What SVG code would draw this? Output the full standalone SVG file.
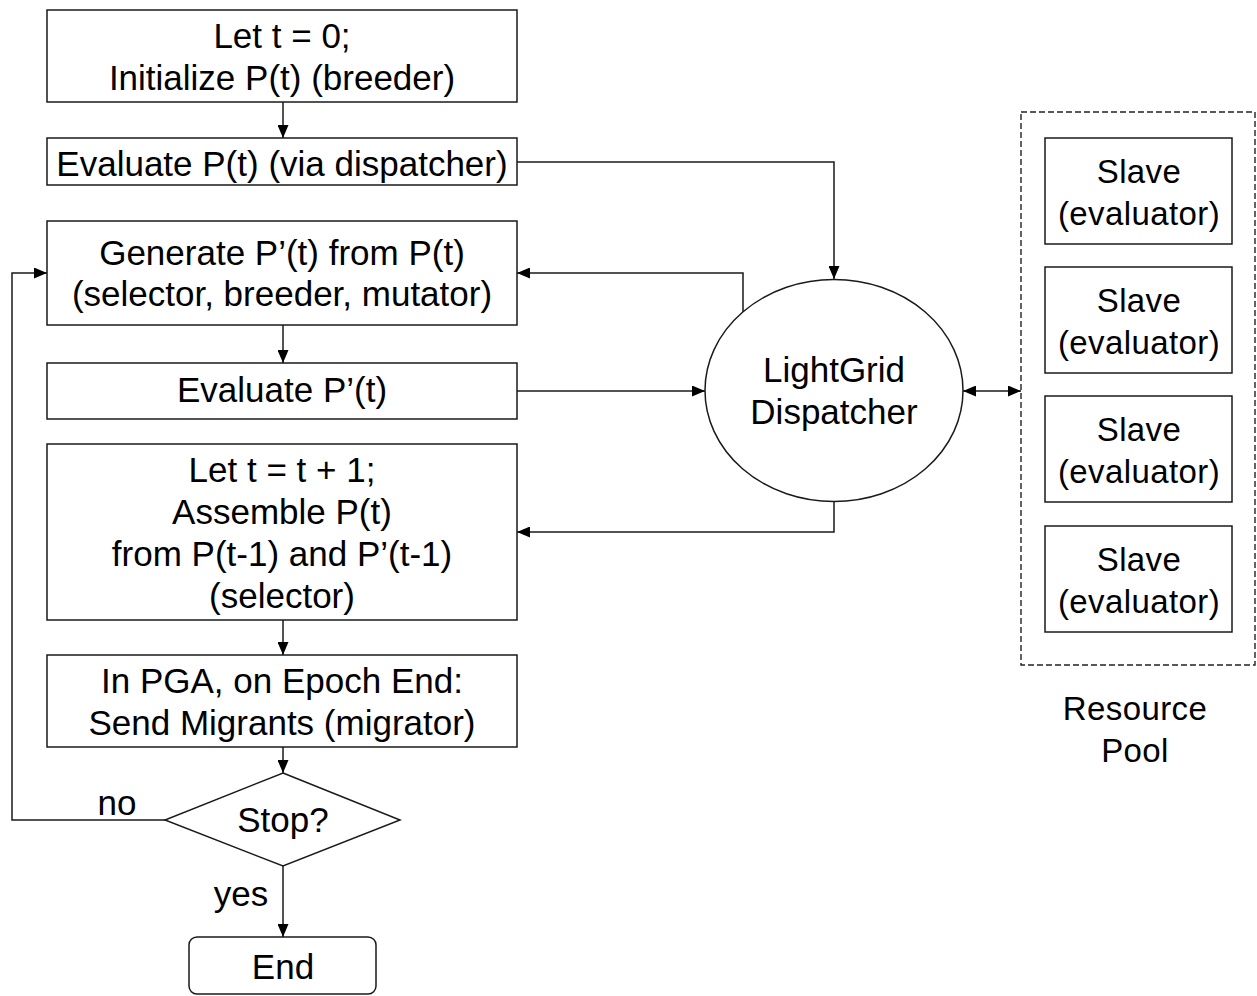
<svg xmlns="http://www.w3.org/2000/svg" width="1257" height="996" viewBox="0 0 1257 996">
  <style>
    .box { fill: #ffffff; stroke: #1a1a1a; stroke-width: 1.5; }
    .lbl { font-family: "Liberation Sans", Arial, sans-serif; font-size: 35px; fill: #000; text-anchor: middle; }
    .slv { font-family: "Liberation Sans", Arial, sans-serif; font-size: 33px; fill: #000; text-anchor: middle; letter-spacing: 0.4px; }
    .edge { fill: none; stroke: #1a1a1a; stroke-width: 1.5; }
    .pool { fill: none; stroke: #222; stroke-width: 1.4; stroke-dasharray: 6 3; }
  </style>
  <defs>
    <marker id="arrow" viewBox="0 0 13 11" refX="13" refY="5.5" markerWidth="13" markerHeight="11" markerUnits="userSpaceOnUse" orient="auto-start-reverse">
      <path d="M0,0 L13,5.5 L0,11 Z" fill="#000"/>
    </marker>
  </defs>

  <rect width="1257" height="996" fill="#ffffff"/>

  <!-- flowchart steps -->
  <g id="init">
    <rect class="box" x="47" y="10" width="470" height="92"/>
    <text class="lbl" x="282" y="48">Let t = 0;</text>
    <text class="lbl" x="282" y="90">Initialize P(t) (breeder)</text>
  </g>
  <g id="evaluate-initial">
    <rect class="box" x="47" y="138" width="470" height="47"/>
    <text class="lbl" x="282" y="176">Evaluate P(t) (via dispatcher)</text>
  </g>
  <g id="generate">
    <rect class="box" x="47" y="221" width="470" height="104"/>
    <text class="lbl" x="282" y="265">Generate P’(t) from P(t)</text>
    <text class="lbl" x="282" y="306">(selector, breeder, mutator)</text>
  </g>
  <g id="evaluate-offspring">
    <rect class="box" x="47" y="363" width="470" height="56"/>
    <text class="lbl" x="282" y="402">Evaluate P’(t)</text>
  </g>
  <g id="assemble">
    <rect class="box" x="47" y="444" width="470" height="176"/>
    <text class="lbl" x="282" y="482">Let t = t + 1;</text>
    <text class="lbl" x="282" y="524">Assemble P(t)</text>
    <text class="lbl" x="282" y="566">from P(t-1) and P’(t-1)</text>
    <text class="lbl" x="282" y="608">(selector)</text>
  </g>
  <g id="migrate">
    <rect class="box" x="47" y="655" width="470" height="92"/>
    <text class="lbl" x="282" y="693">In PGA, on Epoch End:</text>
    <text class="lbl" x="282" y="735">Send Migrants (migrator)</text>
  </g>
  <g id="stop">
    <polygon class="box" points="283,773 400,820 283,866 165,820"/>
    <text class="lbl" x="283" y="832">Stop?</text>
  </g>
  <g id="end">
    <rect class="box" x="189" y="937" width="187" height="57" rx="8"/>
    <text class="lbl" x="283" y="979">End</text>
  </g>

  <!-- dispatcher -->
  <g id="dispatcher">
    <ellipse class="box" cx="834" cy="390.5" rx="129" ry="111"/>
    <text class="lbl" x="834" y="382">LightGrid</text>
    <text class="lbl" x="834" y="424">Dispatcher</text>
  </g>

  <!-- resource pool -->
  <g id="resource-pool">
    <rect class="pool" x="1021" y="112" width="234" height="553"/>
    <text class="slv" x="1135" y="720">Resource</text>
    <text class="slv" x="1135" y="762">Pool</text>
  </g>
  <g id="slave-1">
    <rect class="box" x="1045" y="138" width="187" height="106"/>
    <text class="slv" x="1139" y="183">Slave</text>
    <text class="slv" x="1139" y="225">(evaluator)</text>
  </g>
  <g id="slave-2">
    <rect class="box" x="1045" y="267" width="187" height="106"/>
    <text class="slv" x="1139" y="312">Slave</text>
    <text class="slv" x="1139" y="354">(evaluator)</text>
  </g>
  <g id="slave-3">
    <rect class="box" x="1045" y="396" width="187" height="106"/>
    <text class="slv" x="1139" y="441">Slave</text>
    <text class="slv" x="1139" y="483">(evaluator)</text>
  </g>
  <g id="slave-4">
    <rect class="box" x="1045" y="526" width="187" height="106"/>
    <text class="slv" x="1139" y="571">Slave</text>
    <text class="slv" x="1139" y="613">(evaluator)</text>
  </g>

  <!-- connectors -->
  <g id="connectors">
    <path class="edge" d="M283,102 V138" marker-end="url(#arrow)"/>
    <path class="edge" d="M517,162 H834 V279" marker-end="url(#arrow)"/>
    <path class="edge" d="M743,312 V273 H517" marker-end="url(#arrow)"/>
    <path class="edge" d="M283,325 V363" marker-end="url(#arrow)"/>
    <path class="edge" d="M517,391 H705" marker-end="url(#arrow)"/>
    <path class="edge" d="M834,502 V532 H517" marker-end="url(#arrow)"/>
    <path class="edge" d="M283,620 V655" marker-end="url(#arrow)"/>
    <path class="edge" d="M283,747 V773" marker-end="url(#arrow)"/>
    <path class="edge" d="M165,820 H12 V273 H47" marker-end="url(#arrow)"/>
    <path class="edge" d="M283,866 V937" marker-end="url(#arrow)"/>
    <path class="edge" d="M963,391 H1021" marker-start="url(#arrow)" marker-end="url(#arrow)"/>
    <text class="lbl" x="117" y="815">no</text>
    <text class="lbl" x="241" y="906">yes</text>
  </g>
</svg>
